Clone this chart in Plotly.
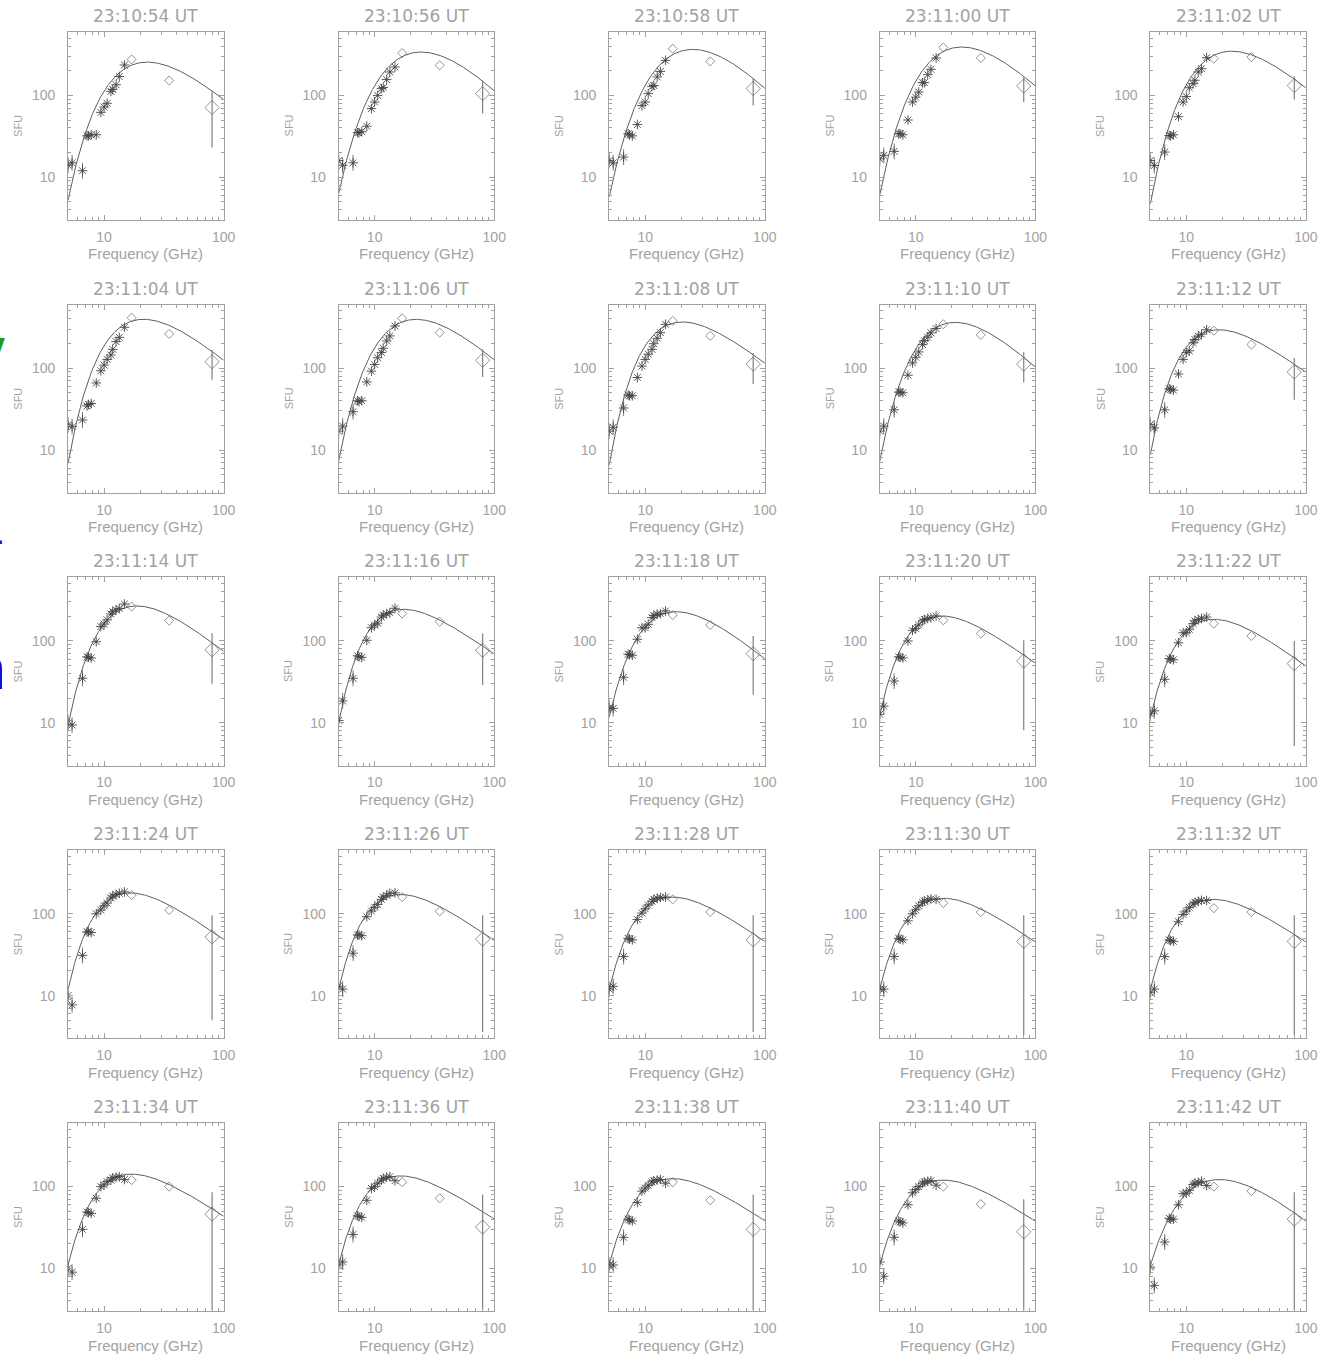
import numpy as np
import plotly.graph_objects as go

# ---------------------------------------------------------------------------
# Radio flux spectra, 2 s cadence
# ---------------------------------------------------------------------------
TIMES = ["23:10:54", "23:10:56", "23:10:58", "23:11:00", "23:11:02",
         "23:11:04", "23:11:06", "23:11:08", "23:11:10", "23:11:12",
         "23:11:14", "23:11:16", "23:11:18", "23:11:20", "23:11:22",
         "23:11:24", "23:11:26", "23:11:28", "23:11:30", "23:11:32",
         "23:11:34", "23:11:36", "23:11:38", "23:11:40", "23:11:42"]

# multi-frequency array channels (GHz) and polarimeter channels (GHz)
FREQ_STAR = [5.0, 5.4, 6.6, 7.2, 7.4, 7.8, 8.6, 9.4, 10.0, 10.6, 11.4, 11.8, 12.6, 13.4, 14.8]
FREQ_DIAMOND = [17.0, 35.0, 80.0]

# flux density (SFU) at FREQ_STAR, one row per time
STAR_FLUX = [
    [14, 15, 12, 32, 32, 33, 33, 62, 72, 80, 112, 118, 135, 170, 235],
    [16, 14, 15, 35, 35, 36, 42, 69, 83, 100, 121, 125, 156, 193, 222],
    [16, 15, 17.6, 34, 33, 32, 44, 75, 83, 105, 128, 132, 168, 196, 268],
    [16.8, 18.5, 20.7, 34, 34, 33, 50, 83, 95, 110, 143, 143, 179, 208, 286],
    [16, 13.9, 20.3, 32.4, 32, 33, 55, 83, 97, 124, 139, 153, 193, 212, 289],
    [20.2, 19.3, 23.3, 34.5, 36, 37, 66, 93, 109, 128, 145, 170, 211, 238, 316],
    [17, 19.6, 29.4, 40, 39, 40, 68, 92, 111, 134, 155, 175, 215, 248, 328],
    [17, 19, 32.6, 47, 46, 46, 77, 106, 128, 148, 170, 199, 232, 272, 344],
    [17, 19.6, 31, 51, 51, 50, 82, 116, 136, 158, 194, 217, 239, 270, 306],
    [20.4, 18.6, 31, 56, 55, 54, 85, 128, 155, 163, 204, 224, 246, 260, 295],
    [10, 9.4, 35, 64, 63, 62, 98, 150, 161, 181, 214, 228, 240, 250, 283],
    [10.7, 18.5, 35, 66, 64, 63, 102, 145, 157, 165, 196, 207, 215, 222, 251],
    [15.3, 15, 36, 69, 68, 67, 105, 145, 145, 160, 193, 205, 213, 215, 233],
    [12.7, 16, 32.4, 64, 63, 62, 100, 135, 142, 157, 176, 183, 189, 192, 202],
    [12.9, 14, 34, 61, 60, 59, 95, 126, 126, 139, 163, 176, 183, 189, 196],
    [10, 7.7, 31, 60, 60, 59, 100, 111, 125, 135, 156, 165, 172, 178, 185],
    [13, 12, 33, 55, 55, 54, 92, 108, 120, 130, 150, 160, 168, 178, 180],
    [12, 13, 30, 50, 49, 48, 85, 102, 115, 128, 142, 150, 155, 158, 160],
    [12, 12, 30, 50, 49, 48, 82, 100, 112, 125, 138, 143, 148, 152, 150],
    [11, 12, 30, 48, 47, 46, 80, 98, 108, 120, 132, 138, 142, 146, 145],
    [10, 9, 30, 49, 48, 47, 72, 100, 105, 115, 120, 128, 130, 132, 122],
    [11, 12, 26, 44, 43, 42, 68, 95, 100, 110, 120, 126, 130, 132, 118],
    [11, 11, 24, 40, 39, 38, 64, 88, 96, 104, 114, 118, 120, 122, 110],
    [12, 8, 24, 38, 37, 36, 60, 84, 92, 100, 110, 114, 116, 118, 104],
    [10.4, 6.2, 21, 41, 40, 40, 60, 82, 83, 90, 106, 110, 112, 116, 103],
]

# flux density (SFU) at FREQ_DIAMOND
DIAMOND_FLUX = [
    [275, 152, 71], [329, 233, 105], [372, 260, 121], [386, 286, 130], [281, 294, 132],
    [414, 262, 120], [406, 272, 125], [378, 248, 112], [344, 255, 112], [287, 194, 90],
    [263, 177, 78], [216, 172, 77], [208, 157, 70], [179, 123, 57], [163, 115, 53],
    [169, 111, 52], [160, 107, 49], [150, 105, 48], [135, 105, 46], [117, 105, 46],
    [120, 100, 46], [113, 72, 32], [113, 68, 30], [100, 61, 28], [100, 88, 40],
]

# 80 GHz uncertainty range (SFU): lower, upper
ERR80_LOW = [23, 60, 75, 83, 89, 72, 78, 64, 67, 41, 30, 29, 22, 8.1, 5.2,
             5.0, 3.6, 3.6, 3.3, 3.3, 3.1, 3.1, 3.1, 3.1, 3.1]
ERR80_HIGH = [112, 152, 163, 167, 171, 167, 170, 153, 156, 133, 124, 123, 115, 102, 100,
              96, 96, 96, 96, 96, 85, 80, 80, 70, 85]

# fitted spectrum: peak frequency (GHz), peak flux, flux at 5 GHz, flux at 100 GHz
FIT_PEAK_FREQ = [23, 24.5, 25, 24.3, 24, 21.4, 22.3, 20.5, 21.4, 18.7,
                 18.8, 17.5, 18.2, 16.6, 17, 16.5, 16.5, 17, 17, 17, 17, 16.5, 17, 17, 19]
FIT_PEAK_FLUX = [255, 339, 365, 390, 347, 396, 395, 367, 363, 295,
                 268, 244, 228, 202, 184, 180, 172, 160, 155, 150, 142, 135, 125, 120, 122]
FIT_FLUX_5 = [5.2, 6.3, 5.7, 6.0, 4.7, 6.9, 7.3, 6.6, 7.3, 8.8,
              9.5, 10, 11.5, 12.1, 11.5, 12, 12, 12, 12, 12, 11, 11, 11, 11, 11]
FIT_FLUX_100 = [88, 115, 123, 130, 124, 126, 125, 115, 105, 90,
                74, 69, 60, 53, 49, 48, 47, 46, 45, 45, 43, 40, 38, 38, 38]


# ---------------------------------------------------------------------------
# spectral model: optically thin power law with low-frequency absorption
#   S = Sp * r^d * exp((d / b) * (r^-b - 1)),  r = f / fp
# (peaks at fp with value Sp; high-frequency index d < 0)
# ---------------------------------------------------------------------------
def spectrum(f, fp, sp, d, b):
    r = np.asarray(f, dtype=float) / fp
    return sp * r ** d * np.exp((d / b) * (r ** (-b) - 1.0))


def fit_indices(fp, sp, s5, s100):
    d = np.linspace(-4.0, -0.05, 241)
    b = np.linspace(0.15, 5.0, 244)
    D, B = np.meshgrid(d, b)

    def log_ratio(f):
        r = f / fp
        return (D * np.log(r) + (D / B) * (r ** (-B) - 1.0)) / np.log(10.0)

    err = ((log_ratio(5.0) - np.log10(s5 / sp)) ** 2
           + (log_ratio(100.0) - np.log10(s100 / sp)) ** 2)
    k = np.unravel_index(np.argmin(err), err.shape)
    return D[k], B[k]


# ---------------------------------------------------------------------------
# figure
# ---------------------------------------------------------------------------
W, H = 1338, 1356
BOX_W, BOX_H = 157.0, 188.3
COL_LEFT = [68.7 + 273.0 * c for c in range(5)]
ROW_TOP = [31.7 + 272.8 * r for r in range(5)]

AX_GREY = "#a0a0a0"
TXT_GREY = "#a2a2a2"
FONT = "Liberation Sans"

X_MINOR = [6, 7, 8, 9, 20, 30, 40, 50, 60, 70, 80, 90]
Y_MINOR = [3, 4, 5, 6, 7, 8, 9, 20, 30, 40, 50, 60, 70, 80, 90, 200, 300, 400, 500, 600]

fig = go.Figure()
layout = {}
annotations = []

f_curve = np.logspace(np.log10(5.0), 2.0, 240)

for i in range(25):
    r, c = divmod(i, 5)
    sfx = "" if i == 0 else str(i + 1)
    xa, ya = "x" + sfx, "y" + sfx

    left, top = COL_LEFT[c], ROW_TOP[r]
    layout["xaxis" + sfx] = dict(
        domain=[left / W, (left + BOX_W) / W], anchor=ya, type="log",
        range=[np.log10(5.0), 2.0], tickmode="array", tickvals=[10, 100],
        ticktext=["10", "100"], ticks="inside", ticklen=5, tickwidth=1,
        tickcolor=AX_GREY, showline=True, linecolor=AX_GREY, linewidth=1,
        mirror="allticks", showgrid=False, zeroline=False,
        tickfont=dict(family=FONT, size=14, color=TXT_GREY),
        ticklabelstandoff=4,
        minor=dict(tickmode="array", tickvals=X_MINOR, ticks="inside",
                   ticklen=3, tickcolor=AX_GREY, showgrid=False),
    )
    layout["yaxis" + sfx] = dict(
        domain=[1 - (top + BOX_H) / H, 1 - top / H], anchor=xa, type="log",
        range=[np.log10(3.0), np.log10(600.0)], tickmode="array",
        tickvals=[10, 100], ticktext=["10", "100"], ticks="inside", ticklen=5,
        tickwidth=1, tickcolor=AX_GREY, showline=True, linecolor=AX_GREY,
        linewidth=1, mirror="allticks", showgrid=False, zeroline=False,
        tickfont=dict(family=FONT, size=14, color=TXT_GREY),
        ticklabelstandoff=9,
        minor=dict(tickmode="array", tickvals=Y_MINOR, ticks="inside",
                   ticklen=3, tickcolor=AX_GREY, showgrid=False),
    )

    # fitted spectrum
    d_idx, b_idx = fit_indices(FIT_PEAK_FREQ[i], FIT_PEAK_FLUX[i], FIT_FLUX_5[i], FIT_FLUX_100[i])
    s_curve = spectrum(f_curve, FIT_PEAK_FREQ[i], FIT_PEAK_FLUX[i], d_idx, b_idx)
    fig.add_trace(go.Scatter(x=f_curve, y=s_curve, mode="lines", xaxis=xa, yaxis=ya,
                             line=dict(color="#5e5e5e", width=1), hoverinfo="skip",
                             showlegend=False))

    # array channels
    stars = np.array(STAR_FLUX[i], dtype=float)
    err_up = np.zeros_like(stars)
    err_dn = np.zeros_like(stars)
    err_up[:3] = stars[:3] * 0.25
    err_dn[:3] = stars[:3] * 0.2
    fig.add_trace(go.Scatter(
        x=FREQ_STAR, y=stars, mode="markers", xaxis=xa, yaxis=ya,
        marker=dict(symbol="asterisk-open", size=8, color="#444444",
                    line=dict(color="#444444", width=0.9)),
        error_y=dict(type="data", array=err_up, arrayminus=err_dn, width=0,
                     thickness=1, color="#7a7a7a"),
        showlegend=False))

    # polarimeter channels
    dia = np.array(DIAMOND_FLUX[i], dtype=float)
    d_up = np.array([0, 0, ERR80_HIGH[i] - dia[2]])
    d_dn = np.array([0, 0, dia[2] - ERR80_LOW[i]])
    fig.add_trace(go.Scatter(
        x=FREQ_DIAMOND, y=dia, mode="markers", xaxis=xa, yaxis=ya,
        marker=dict(symbol="diamond-open", size=[7, 7, 11], color="#666666",
                    line=dict(color="#666666", width=1)),
        error_y=dict(type="data", array=d_up, arrayminus=d_dn, width=0,
                     thickness=1.2, color="#808080"),
        showlegend=False))

    # panel title and axis titles
    annotations.append(dict(
        text=TIMES[i] + " UT", xref=xa + " domain", yref=ya + " domain",
        x=0.5, y=1.0, xanchor="center", yanchor="bottom", yshift=4,
        showarrow=False, font=dict(family="DejaVu Sans", size=17, color=TXT_GREY)))
    annotations.append(dict(
        text="Frequency (GHz)", xref=xa + " domain", yref=ya + " domain",
        x=0.5, y=0.0, xanchor="center", yanchor="middle", yshift=-34,
        showarrow=False, font=dict(family=FONT, size=15, color=TXT_GREY)))
    annotations.append(dict(
        text="SFU", xref="paper", yref=ya + " domain",
        x=(left - 50.5) / W, y=0.5, xanchor="center", yanchor="middle",
        textangle=-90, showarrow=False,
        font=dict(family=FONT, size=11, color=TXT_GREY)))

# text running in from the left edge
annotations.append(dict(text="<b>y</b>", xref="paper", yref="paper",
                        x=7 / W, y=1 - 345 / H, xanchor="right", yanchor="middle",
                        showarrow=False, font=dict(family=FONT, size=36, color="#1f9a1f")))
annotations.append(dict(text="<b>-</b>", xref="paper", yref="paper",
                        x=5 / W, y=1 - 540 / H, xanchor="right", yanchor="middle",
                        showarrow=False, font=dict(family=FONT, size=30, color="#1010e0")))
annotations.append(dict(text="<b>n</b>", xref="paper", yref="paper",
                        x=8 / W, y=1 - 668 / H, xanchor="right", yanchor="middle",
                        showarrow=False, font=dict(family=FONT, size=62, color="#1010e0")))

fig.update_layout(
    width=W, height=H, margin=dict(l=0, r=0, t=0, b=0),
    paper_bgcolor="white", plot_bgcolor="white",
    annotations=annotations, showlegend=False, **layout,
)

fig.write_html("out.html")
